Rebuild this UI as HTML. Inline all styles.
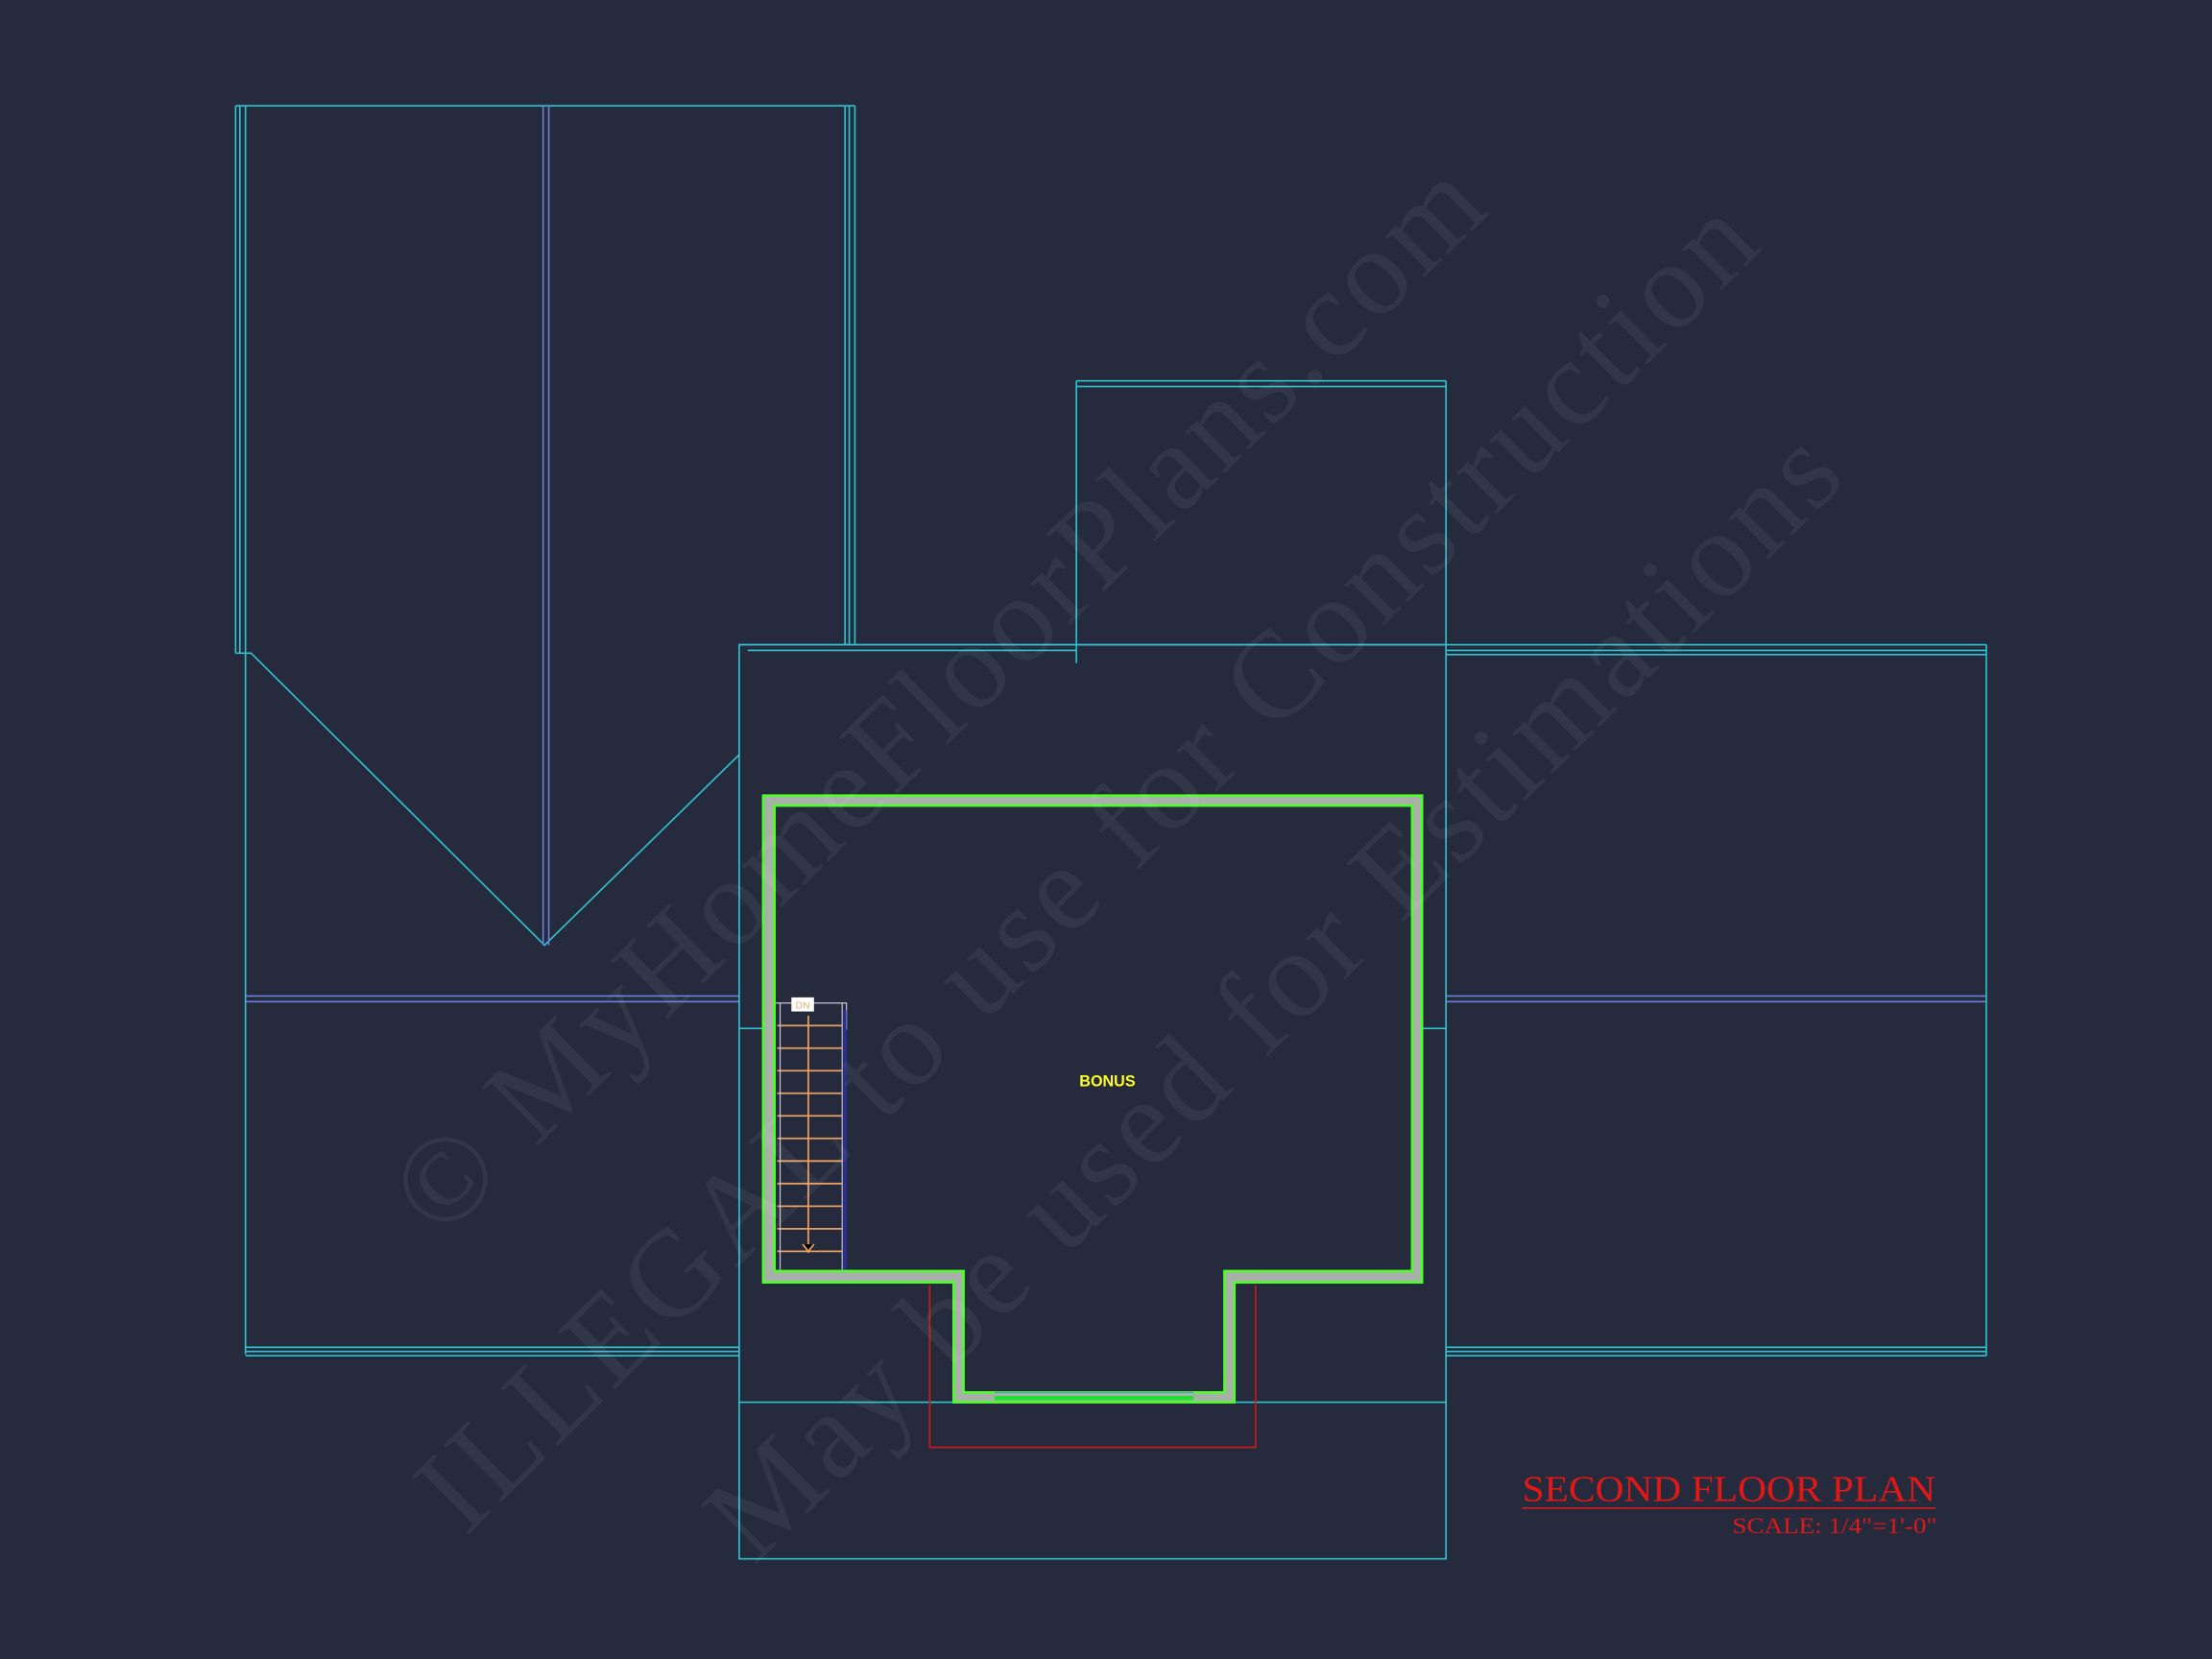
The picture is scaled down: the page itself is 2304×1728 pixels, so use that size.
<!DOCTYPE html>
<html><head><meta charset="utf-8"><style>
html,body{margin:0;padding:0;background:#252a3d;}
svg{display:block;}
</style></head><body>
<svg width="2304" height="1728" viewBox="0 0 1568 1176" xmlns="http://www.w3.org/2000/svg">
<rect width="1568" height="1176" fill="#252a3d"/>
<g fill="none" stroke-width="1.1">
<g stroke="#2ec4d0">
<line x1="167" y1="75" x2="606" y2="75"/>
<line x1="167" y1="75" x2="167" y2="463"/><line x1="170" y1="75" x2="170" y2="463"/>
<line x1="174" y1="75" x2="174" y2="960"/>
<line x1="599" y1="75" x2="599" y2="457"/><line x1="602" y1="75" x2="602" y2="457"/><line x1="606" y1="75" x2="606" y2="457"/>
<polyline points="167,463 178,463 386,670 524,535"/>
<line x1="174" y1="955" x2="524" y2="955"/><line x1="174" y1="958" x2="524" y2="958"/><line x1="174" y1="961" x2="524" y2="961"/>
</g>
<g stroke="#6b7fd8">
<line x1="385" y1="75" x2="385" y2="670"/><line x1="389" y1="75" x2="389" y2="670"/>
<line x1="174" y1="706" x2="524" y2="706"/><line x1="174" y1="710" x2="524" y2="710"/>
<line x1="524" y1="457" x2="1025" y2="457"/>
<line x1="1025" y1="706" x2="1408" y2="706"/><line x1="1025" y1="710" x2="1408" y2="710"/>
</g>
<g stroke="#2ec4d0">
<rect x="524" y="457" width="501" height="648"/>
<line x1="524" y1="994" x2="1025" y2="994"/>
<line x1="763" y1="270" x2="1025" y2="270"/><line x1="763" y1="274" x2="1025" y2="274"/>
<line x1="763" y1="270" x2="763" y2="470"/>
<line x1="1025" y1="270" x2="1025" y2="457"/>
<line x1="530" y1="461" x2="763" y2="461"/>
<line x1="524" y1="729" x2="541" y2="729"/><line x1="1008" y1="729" x2="1025" y2="729"/>
<line x1="1025" y1="457" x2="1408" y2="457"/><line x1="1025" y1="461" x2="1408" y2="461"/><line x1="1025" y1="464" x2="1408" y2="464"/>
<line x1="1408" y1="457" x2="1408" y2="961"/>
<line x1="1025" y1="955" x2="1408" y2="955"/><line x1="1025" y1="958" x2="1408" y2="958"/><line x1="1025" y1="961" x2="1408" y2="961"/>
</g>
<polyline stroke="#d01a1a" points="659,911 659,1026 890,1026 890,911"/>
</g>
<path d="M541,564 H1008 V909 H875 V994 H676 V909 H541 Z M549,571 V901 H683 V987 H868 V901 H1001 V571 Z" fill="#a8b0a8" fill-rule="evenodd" stroke="#4dff2a" stroke-width="1.8"/>
<g stroke="#22dd33" stroke-width="3"><line x1="705" y1="991" x2="846" y2="991"/></g>
<g stroke="#5580ff" stroke-width="0.8"><line x1="705" y1="987" x2="846" y2="987"/></g>
<g stroke="#e8a060" stroke-width="1.2">
<line x1="573" y1="720" x2="573" y2="888"/>
<line x1="551" y1="727" x2="597" y2="727"/><line x1="551" y1="743" x2="597" y2="743"/><line x1="551" y1="759" x2="597" y2="759"/><line x1="551" y1="775" x2="597" y2="775"/><line x1="551" y1="791" x2="597" y2="791"/><line x1="551" y1="807" x2="597" y2="807"/><line x1="551" y1="823" x2="597" y2="823"/><line x1="551" y1="839" x2="597" y2="839"/><line x1="551" y1="855" x2="597" y2="855"/><line x1="551" y1="871" x2="597" y2="871"/><line x1="551" y1="887" x2="597" y2="887"/>
<polyline points="569,882 573,887 577,882"/>
</g>
<g stroke="#c8c8d8" stroke-width="0.8" fill="none">
<polyline points="550,711 600,711 600,730"/>
<line x1="597" y1="711" x2="597" y2="900"/>
<line x1="553" y1="711" x2="553" y2="900"/>
</g>
<line x1="599" y1="716" x2="599" y2="900" stroke="#2a2fa0" stroke-width="2"/>
<rect x="561" y="707" width="16" height="10" fill="#fff"/>
<text x="569" y="715" font-family="Liberation Sans, sans-serif" font-size="7" fill="#e8b070" text-anchor="middle">DN</text>
<text x="785" y="770" font-family="Liberation Sans, sans-serif" font-size="11" font-weight="bold" fill="#ffff22" text-anchor="middle">BONUS</text>
<g font-family="Liberation Serif, serif" font-size="88" fill="#ffffff" fill-opacity="0.06">
<text transform="translate(312,880) rotate(-44.4)" textLength="1043" lengthAdjust="spacing">© MyHomeFloorPlans.com</text>
<text transform="translate(330,1090) rotate(-44.8)" textLength="1297" lengthAdjust="spacing">ILLEGAL to use for Construction</text>
<text transform="translate(535,1110) rotate(-44.8)" textLength="1092" lengthAdjust="spacing">May be used for Estimations</text>
</g>
<text x="1079" y="1064" font-family="Liberation Serif, serif" font-size="26" fill="#e01818" textLength="293" lengthAdjust="spacingAndGlyphs">SECOND FLOOR PLAN</text>
<line x1="1079" y1="1069" x2="1372" y2="1069" stroke="#e01818" stroke-width="1"/>
<text x="1228" y="1087" font-family="Liberation Serif, serif" font-size="16" fill="#e01818" textLength="145" lengthAdjust="spacingAndGlyphs">SCALE: 1/4"=1'-0"</text>
</svg>
</body></html>
